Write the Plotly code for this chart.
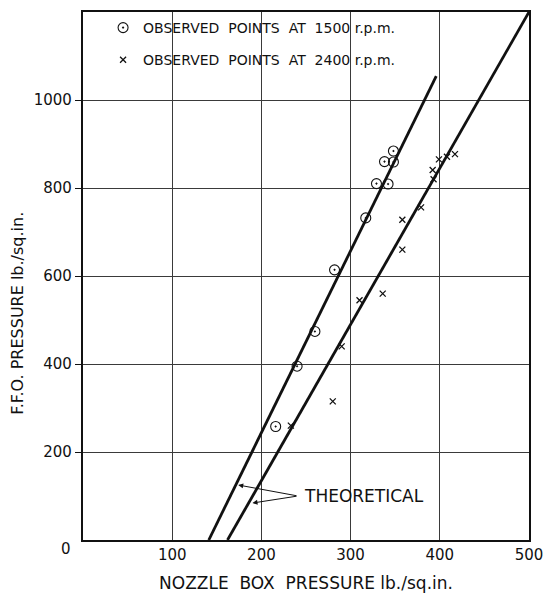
import plotly.graph_objects as go

# Observed points at 1500 r.p.m. (circles)
obs1500_x = [216, 240, 260, 282, 317, 329, 342, 338, 348, 348]
obs1500_y = [258, 395, 474, 614, 732, 810, 809, 860, 859, 884]

# Observed points at 2400 r.p.m. (crosses)
obs2400_x = [233, 280, 290, 310, 336, 358, 358, 379, 392, 393, 399, 408, 417]
obs2400_y = [260, 315, 440, 545, 560, 660, 728, 756, 841, 820, 865, 871, 877]

# Theoretical lines (end points)
theo1500_x = [141, 396]
theo1500_y = [0, 1054]
theo2400_x = [162, 500]
theo2400_y = [0, 1200]

x_ticks = [100, 200, 300, 400, 500]
y_ticks = [200, 400, 600, 800, 1000]

FONT = "DejaVu Sans"
BLACK = "#111111"

fig = go.Figure()

fig.add_trace(go.Scatter(x=theo1500_x, y=theo1500_y, mode="lines",
                         line=dict(color=BLACK, width=2.8), showlegend=False,
                         hoverinfo="skip"))
fig.add_trace(go.Scatter(x=theo2400_x, y=theo2400_y, mode="lines",
                         line=dict(color=BLACK, width=2.8), showlegend=False,
                         hoverinfo="skip"))

fig.add_trace(go.Scatter(x=obs1500_x, y=obs1500_y, mode="markers",
                         name="OBSERVED\u00a0 POINTS\u00a0 AT\u00a0 1500 r.p.m.",
                         legendgroup="a",
                         marker=dict(symbol="circle-open-dot", size=10,
                                     color=BLACK, line=dict(width=1.1, color=BLACK))))
fig.add_trace(go.Scatter(x=obs2400_x, y=obs2400_y, mode="markers",
                         name="OBSERVED\u00a0 POINTS\u00a0 AT\u00a0 2400 r.p.m.",
                         legendgroup="b",
                         marker=dict(symbol="x-thin", size=6,
                                     color=BLACK, line=dict(width=1.3, color=BLACK))))

# THEORETICAL annotation with two arrows
fig.add_annotation(x=174, y=125, ax=241, ay=100, xref="x", yref="y",
                   axref="x", ayref="y", text="", showarrow=True,
                   arrowhead=2, arrowsize=1, arrowwidth=1, arrowcolor=BLACK)
fig.add_annotation(x=190, y=84, ax=241, ay=100, xref="x", yref="y",
                   axref="x", ayref="y", text="", showarrow=True,
                   arrowhead=2, arrowsize=1, arrowwidth=1, arrowcolor=BLACK)
fig.add_annotation(x=245, y=100, xref="x", yref="y", text="THEORETICAL",
                   showarrow=False, xanchor="left", yanchor="middle",
                   font=dict(family=FONT, size=17, color=BLACK))

# corner zero
fig.add_annotation(x=0, y=0, xref="x", yref="y", text="0", showarrow=False,
                   xanchor="right", yanchor="top", xshift=-10, yshift=2,
                   font=dict(family=FONT, size=15, color=BLACK))

# y-axis title (placed as rotated text, sitting a little below centre as in the original)
fig.add_annotation(x=-0.146, y=0.43, xref="paper", yref="paper",
                   text="F.F.O. PRESSURE lb./sq.in.", textangle=-90,
                   showarrow=False, xanchor="center", yanchor="middle",
                   font=dict(family=FONT, size=16, color=BLACK))

fig.update_xaxes(range=[0, 500], tickvals=x_ticks,
                 ticktext=[str(v) for v in x_ticks],
                 showgrid=True, gridcolor="#3a3a3a", gridwidth=0.9,
                 showline=True, linecolor=BLACK, linewidth=2.2, mirror=True,
                 ticks="", zeroline=False, automargin=False,
                 tickfont=dict(family=FONT, size=15, color=BLACK),
                 title=dict(text="NOZZLE\u00a0 BOX\u00a0 PRESSURE lb./sq.in.",
                            font=dict(family=FONT, size=17, color=BLACK),
                            standoff=14))
fig.update_yaxes(range=[0, 1200], tickvals=y_ticks,
                 ticktext=[str(v) for v in y_ticks],
                 showgrid=True, gridcolor="#3a3a3a", gridwidth=0.9,
                 showline=True, linecolor=BLACK, linewidth=2.2, mirror=True,
                 ticks="outside", ticklen=6, tickcolor=BLACK, zeroline=False,
                 automargin=False,
                 tickfont=dict(family=FONT, size=15, color=BLACK))

fig.update_layout(
    width=550, height=594,
    margin=dict(l=83, r=21, t=12, b=54),
    plot_bgcolor="white", paper_bgcolor="white",
    legend=dict(x=0.045, y=1.0, xanchor="left", yanchor="top",
                bgcolor="rgba(0,0,0,0)", font=dict(family=FONT, size=14, color=BLACK),
                tracegroupgap=11),
)

fig.write_html("out.html")
